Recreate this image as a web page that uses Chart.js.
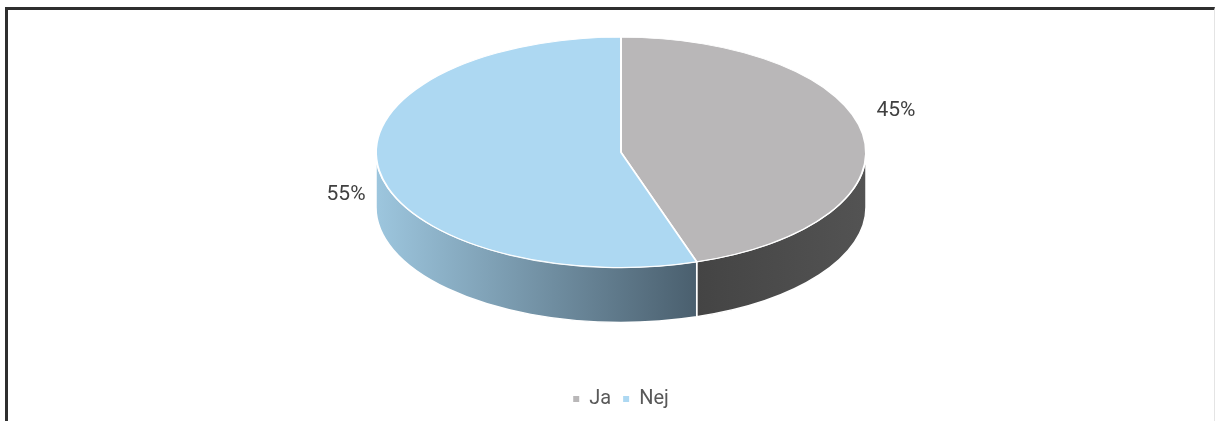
<!DOCTYPE html>
<html>
<head>
<meta charset="utf-8">
<script src="https://cdn.jsdelivr.net/npm/chart.js@4/dist/chart.umd.min.js"></script>
<style>
body{margin:0;background:#fff;}
.frame{position:absolute;left:5px;top:7px;width:1210px;height:414px;box-sizing:border-box;border-left:3px solid #2f2f2f;border-top:3px solid #2f2f2f;border-right:1px solid #e4e4e4;}
#pie_chart{position:absolute;left:0;top:0;}
</style>
</head>
<body>
<div class="frame"></div>
<canvas id="pie_chart" width="1215" height="421"></canvas>
<script>
//chart data
const labels=["Ja","Nej"];
const values=[45,55];

//look
const top_colors=["#b9b7b8","#add8f2"];
const side_colors=[["#444444","#535353"],["#9dc6de","#4a5f6e"]];
const tilt=0.47;      //vertical squash of the pie
const depth=55;       //height of the side wall in px
const label_turn=9*Math.PI/180;
const label_reach=1.18;

const total=values.reduce((a,b)=>a+b,0);
const ctx=document.getElementById("pie_chart").getContext("2d");

//side wall of one slice, only the front half is visible
function drawSide(ctx,arc,i){
  const start=Math.max(arc.startAngle,0);
  const end=Math.min(arc.endAngle,Math.PI);
  if(end<=start) return;
  const rx=arc.outerRadius, ry=rx*tilt;
  const x0=arc.x+rx*Math.cos(start), x1=arc.x+rx*Math.cos(end);
  const grad=ctx.createLinearGradient(Math.min(x0,x1),0,Math.max(x0,x1),0);
  grad.addColorStop(0,side_colors[i][0]);
  grad.addColorStop(1,side_colors[i][1]);
  ctx.beginPath();
  ctx.ellipse(arc.x,arc.y,rx,ry,0,start,end);
  ctx.ellipse(arc.x,arc.y+depth,rx,ry,0,end,start,true);
  ctx.closePath();
  ctx.fillStyle=grad;
  ctx.fill();
  ctx.strokeStyle="#ffffff";
  ctx.lineWidth=1.5;
  ctx.stroke();
}

const pie_3d={
  id:"pie_3d",
  beforeDatasetsDraw(chart){
    const c=chart.ctx;
    const arcs=chart.getDatasetMeta(0).data;
    arcs.forEach((arc,i)=>drawSide(c,arc,i));
    arcs.forEach(arc=>{
      c.save();
      c.translate(arc.x,arc.y);
      c.scale(1,tilt);
      c.translate(-arc.x,-arc.y);
      arc.draw(c);
      c.restore();
    });
    //percent labels
    c.save();
    c.font="21px Roboto";
    c.fillStyle="#404040";
    c.textAlign="center";
    c.textBaseline="middle";
    arcs.forEach((arc,i)=>{
      const mid=(arc.startAngle+arc.endAngle)/2-label_turn;
      const x=arc.x+arc.outerRadius*label_reach*Math.cos(mid);
      const y=arc.y+arc.outerRadius*tilt*label_reach*Math.sin(mid);
      c.fillText(Math.round(values[i]/total*100)+"%",x,y);
    });
    c.restore();
    return false;
  }
};

new Chart(ctx,{
  type:"pie",
  data:{
    labels:labels,
    datasets:[{
      data:values,
      backgroundColor:top_colors,
      borderColor:"#ffffff",
      borderWidth:2,
      radius:245
    }]
  },
  options:{
    responsive:false,
    animation:false,
    layout:{padding:{left:27,top:0,bottom:2}},
    plugins:{
      tooltip:{enabled:false},
      legend:{
        position:"bottom",
        title:{display:true,text:"",padding:{top:58,bottom:0}},
        labels:{
          boxWidth:6,
          boxHeight:6,
          padding:12,
          color:"#595959",
          font:{family:"Roboto",size:20},
          generateLabels:(chart)=>Chart.overrides.doughnut.plugins.legend.labels.generateLabels(chart).map(l=>Object.assign(l,{lineWidth:0}))
        }
      }
    }
  },
  plugins:[pie_3d]
});
</script>
</body>
</html>
